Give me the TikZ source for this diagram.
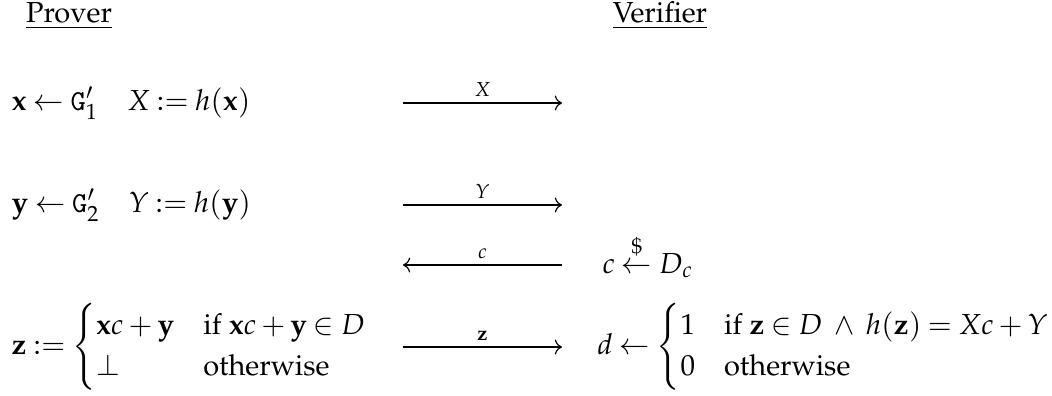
\documentclass[tikz,border=0pt]{standalone}
\usepackage{amsmath}
\usepackage[OT1]{fontenc}
\usepackage{mathpazo}
\usepackage{tikz}
\usetikzlibrary{arrows.meta}
\thickmuskip=4mu plus 4mu
\medmuskip=3mu plus 2mu minus 3mu

\begin{document}
\begin{tikzpicture}[x=0.345pt,y=-0.345pt,
  party/.style={anchor=base,inner sep=0pt},
  stmt/.style={anchor=base west,inner sep=0pt},
  msg/.style={-{Computer Modern Rightarrow}},
  lbl/.style={above,inner sep=2pt,font=\scriptsize}
]
\useasboundingbox (0,0) rectangle (1052,396);
\node[party] (prover) at (69,23) {\underline{Prover}};
\node[party] (verifier) at (660,23) {\underline{Verifier}};
% prover side
\node[stmt] (commitx) at (11,110) {$\mathbf{x} \leftarrow \mathtt{G}'_1 \quad X := h(\mathbf{x})$};
\node[stmt] (commity) at (11,212) {$\mathbf{y} \leftarrow \mathtt{G}'_2 \quad Y := h(\mathbf{y})$};
\node[stmt] (respond) at (11,354) {$\mathbf{z} := \begin{cases} \mathbf{x}c+\mathbf{y} & \text{if } \mathbf{x}c+\mathbf{y}\in D\\ \perp & \text{otherwise}\end{cases}$};
% verifier side
\node[stmt] (challenge) at (602,273) {$c \overset{\raisebox{1pt}{$\scriptstyle\$$}}{\leftarrow} D_c$};
\node[stmt] (decide) at (597,354) {$d \leftarrow \begin{cases} 1 & \text{if } \mathbf{z}\in D \;\wedge\; h(\mathbf{z}) = Xc+Y\\ 0 & \text{otherwise}\end{cases}$};
% messages
\coordinate (m1l) at (403,103);
\coordinate (m1r) at (562,103);
\coordinate (m2l) at (403,205);
\coordinate (m2r) at (562,205);
\coordinate (m3l) at (403,265);
\coordinate (m3r) at (562,265);
\coordinate (m4l) at (403,347);
\coordinate (m4r) at (562,347);
\draw[msg] (m1l) -- node[lbl] {$X$} (m1r);
\draw[msg] (m2l) -- node[lbl] {$Y$} (m2r);
\draw[msg] (m3r) -- node[lbl] {$c$} (m3l);
\draw[msg] (m4l) -- node[lbl] {$\mathbf{z}$} (m4r);
\end{tikzpicture}
\end{document}
